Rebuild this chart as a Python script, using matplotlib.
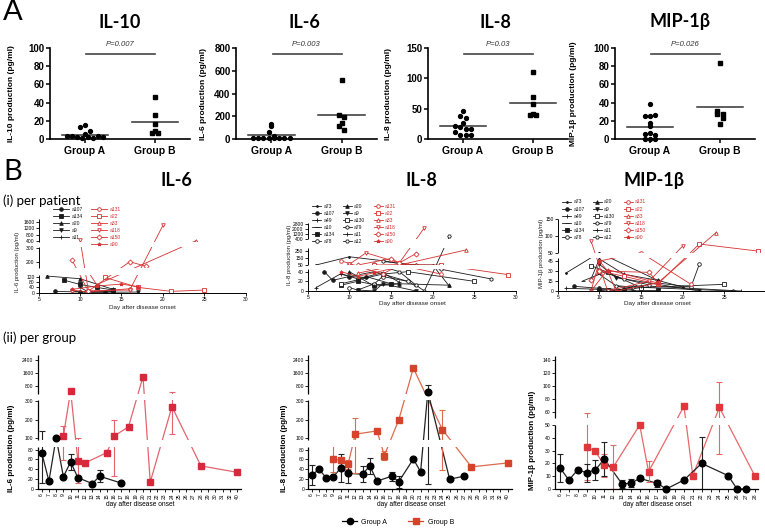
import numpy as np
import matplotlib
matplotlib.use("Agg")
import matplotlib.pyplot as plt
from matplotlib.lines import Line2D

W, H = 765, 529
plt.rcParams["font.family"] = ["Liberation Sans", "DejaVu Sans"]
TITLE_FONT = ["Lato", "DejaVu Sans"]

# ---------------- data: panel A (single values per patient) ----------------
groups = ["Group A", "Group B"]
a_titles = ["IL-10", "IL-6", "IL-8", "MIP-1β"]
a_ylabels = ["IL-10 production (pg/ml)", "IL-6 production (pg/ml)",
             "IL-8 production (pg/ml)", "MIP-1β production (pg/ml)"]
a_pvalues = ["P=0.007", "P=0.003", "P=0.03", "P=0.026"]
a_yticks = [[0, 20, 40, 60, 80, 100], [0, 200, 400, 600, 800],
            [0, 50, 100, 150], [0, 20, 40, 60, 80, 100]]
il10_a = [13, 15, 9, 5, 3, 3, 2, 1, 2, 1, 3, 2]
il10_b = [46, 26, 17, 9, 7, 7]
il6_a = [130, 110, 65, 25, 10, 8, 12, 6, 9, 5, 7, 10]
il6_b = [515, 215, 195, 140, 115, 75]
il8_a = [46, 38, 35, 26, 21, 19, 17, 16, 12, 7, 7, 7]
il8_b = [111, 70, 57, 42, 40, 40]
mip_a = [39, 25, 25, 26, 18, 14, 6, 7, 4, 0, 0, 0]
mip_b = [84, 31, 28, 27, 23, 16]

# ---------------- data: panel B (i) per patient ----------------
red_names = ["a131", "a22", "a33", "a118", "a150", "a90"]

p6_names = ["a107", "a134", "a20", "a9", "a11"]
p6_days = [[7, 10, 13, 14], [8, 10, 12, 14], [6, 10, 14], [9, 11, 17], [10, 11, 14]]
p6_vals = [[10, 5, 5, 10], [95, 62, 40, 20], [125, 105, 25], [12, 3, 5], [40, 5, 15]]
p6_red_days = [[9, 11, 16], [13, 17, 21, 25], [11, 12, 24], [10, 11, 16, 20],
               [9, 11, 16, 18], [9, 12, 15, 17]]
p6_red_vals = [[20, 5, 30], [115, 40, 10, 20], [140, 60, 400], [450, 15, 20, 1400],
               [215, 12, 200, 165], [25, 50, 65, 45]]

p8_names = ["a73", "a107", "a49", "a10", "a134", "a78",
            "a20", "a9", "a130", "a79", "a11", "a12"]
p8_days = [[6, 10, 14, 17, 20, 22], [7, 8, 10, 12], [6, 9, 11, 14, 16],
           [9, 10, 13, 17, 18], [9, 11, 13, 15], [10, 11, 13, 14, 17],
           [10, 13, 16, 22], [11, 13, 14, 18], [9, 14, 17, 25],
           [14, 18, 21, 27], [12, 15, 16], [13, 16, 18, 19, 22]]
p8_vals = [[50, 165, 110, 50, 50, 10], [40, 22, 30, 28], [7, 36, 25, 38, 18],
           [35, 30, 40, 20, 10], [12, 20, 13, 15], [7, 2, 15, 30, 20],
           [40, 10, 15, 12], [2, 0, 15, 0], [15, 35, 40, 20],
           [100, 50, 45, 25], [30, 15, 15], [60, 40, 12, 0, 800]]
p8_red_days = [[9, 10, 14, 16, 21], [13, 16, 21, 29], [11, 16, 24],
               [10, 12, 16, 19], [11, 15, 16, 18], [9, 11, 13, 17]]
p8_red_vals = [[110, 70, 35, 50, 35], [50, 55, 50, 34], [37, 50, 260],
               [60, 220, 80, 2200], [50, 140, 80, 210], [40, 30, 38, 50]]

pm_names = p8_names
pm_days = [[6, 10, 17, 20], [7, 10, 13, 15], [6, 9, 12, 14], [8, 10, 12, 14],
           [10, 11, 13, 17], [17, 21, 22], [9, 10, 13, 17], [10, 12, 22],
           [9, 11, 15, 25], [12, 14, 26], [13, 15, 27], [10, 13, 16]]
pm_vals = [[27, 50, 16, 6], [7, 4, 2, 5], [4, 3, 1, 6], [15, 25, 8, 2],
           [0, 2, 0, 1], [12, 6, 40], [18, 48, 25, 16], [40, 20, 0],
           [38, 28, 5, 10], [8, 6, 0], [4, 8, 0], [30, 18, 9]]
pm_red_days = [[9, 10, 15, 21], [10, 13, 17, 22, 29], [9, 11, 17, 24],
               [9, 11, 16, 20], [9, 10, 16, 17], [10, 11, 12, 17]]
pm_red_vals = [[0, 45, 50, 10], [30, 22, 10, 76, 55], [0, 32, 12, 110],
               [85, 0, 15, 70], [16, 30, 28, 12], [45, 30, 0, 12]]

# ---------------- data: panel B (ii) per group ----------------
cats_il = list(range(6, 33)) + [40]
cats_mip = list(range(6, 29))

g6_a_days = [6, 7, 8, 9, 10, 11, 13, 14, 17]
g6_a_vals = [74, 16, 102, 25, 55, 23, 11, 26, 12]
g6_a_err = [62, 0, 0, 0, 17, 0, 0, 12, 0]
g6_b_days = [9, 10, 11, 12, 15, 16, 18, 20, 21, 24, 28, 40]
g6_b_vals = [111, 500, 57, 53, 74, 111, 161, 1380, 14, 271, 47, 34]
g6_b_err = [53, 0, 45, 0, 0, 85, 0, 0, 0, 150, 0, 0]

g8_a_days = [6, 7, 8, 9, 10, 11, 13, 14, 15, 17, 18, 20, 21, 22, 25, 27]
g8_a_vals = [28, 40, 23, 25, 43, 32, 30, 47, 16, 26, 15, 61, 35, 450, 20, 26]
g8_a_err = [20, 0, 0, 0, 28, 20, 16, 16, 0, 9, 12, 0, 0, 440, 0, 0]
g8_b_days = [9, 10, 11, 12, 15, 16, 18, 20, 24, 28, 40]
g8_b_vals = [61, 58, 50, 121, 139, 68, 200, 1900, 146, 45, 53]
g8_b_err = [27, 0, 9, 88, 0, 10, 0, 0, 107, 0, 0]

gm_a_days = [6, 7, 8, 9, 10, 11, 13, 14, 15, 17, 18, 20, 22, 25, 26, 27]
gm_a_vals = [16.5, 7, 15, 12.7, 15, 23.4, 4, 4.5, 8.3, 4.4, 0, 7, 20, 10.4, 0, 0]
gm_a_err = [11, 0, 0, 7, 8, 13, 3, 3, 0, 3, 0, 0, 20.5, 0, 0, 0]
gm_b_days = [9, 10, 11, 12, 15, 16, 20, 21, 24, 28]
gm_b_vals = [33, 29.4, 18.4, 17, 50, 13.5, 69, 10.4, 67, 10.4]
gm_b_err = [26, 0, 9, 17, 0, 8, 0, 0, 40, 0]

# marker style per patient: (marker, filled)
MARKERS = {
    "a73": (".", True), "a107": ("o", True), "a49": ("+", True), "a10": ("_", True),
    "a134": ("s", True), "a78": ("o", False), "a20": ("^", True), "a9": ("v", True),
    "a130": ("s", False), "a79": ("h", False), "a11": ("+", True), "a12": ("H", False),
    "a131": ("o", False), "a22": ("s", False), "a33": ("^", False),
    "a118": ("v", False), "a150": ("D", False), "a90": ("*", True),
}
BLACK = "#1a1a1a"
RED = "#d63030"


def px_axes(fig, left, top, right, bottom):
    return fig.add_axes([left / W, 1 - bottom / H, (right - left) / W, (bottom - top) / H])


def ftext(fig, x, y, s, **kw):
    return fig.text(x / W, 1 - y / H, s, **kw)


def lin_interp(x, xp, fp):
    x = np.asarray(x, float)
    y = np.interp(x, xp, fp)
    lo = (fp[1] - fp[0]) / (xp[1] - xp[0])
    hi = (fp[-1] - fp[-2]) / (xp[-1] - xp[-2])
    y = np.where(x < xp[0], fp[0] + (x - xp[0]) * lo, y)
    y = np.where(x > xp[-1], fp[-1] + (x - xp[-1]) * hi, y)
    return y


def swarm(vals, ymax, width):
    # spread points of similar height sideways, like a GraphPad scatter
    vals = np.asarray(vals, float)
    bins = np.round(vals / (ymax * 0.06)).astype(int)
    offs = np.zeros(len(vals))
    for b in np.unique(bins):
        idx = np.where(bins == b)[0]
        offs[idx] = (np.arange(len(idx)) - (len(idx) - 1) / 2) * width
    return offs


def broken_axis(fig, left, right, bottom, segs, yticks, lw=0.8, tsize=3.6):
    # segs: (value_lo, value_hi, height_lo_px, height_hi_px)
    top = bottom - segs[-1][3]
    ax = px_axes(fig, left, top, right, bottom)
    kv = np.array([v for s in segs for v in s[:2]], float)
    kh = np.array([h for s in segs for h in s[2:]], float)
    ax.set_yscale("function", functions=(lambda v: lin_interp(v, kv, kh),
                                         lambda h: lin_interp(h, kh, kv)))
    ax.set_ylim(segs[0][0], segs[-1][1])
    for sp in ["left", "top", "right"]:
        ax.spines[sp].set_visible(False)
    ax.spines["bottom"].set_linewidth(lw)
    for s in segs:
        ax.plot([0, 0], [s[0], s[1]], transform=ax.get_yaxis_transform(),
                color="black", lw=lw, clip_on=False, solid_capstyle="butt", zorder=5)
    for s0, s1 in zip(segs[:-1], segs[1:]):
        ax.axhspan(s0[1], s1[0], color="white", lw=0, zorder=2.6)
    ax.set_yticks(yticks, labels=[str(t) for t in yticks])
    ax.minorticks_off()
    ax.tick_params(length=2, width=0.6, labelsize=tsize, pad=1)
    return ax


fig = plt.figure(figsize=(W / 100, H / 100), dpi=100)

# ---------------- panel A ----------------
a_data = [(il10_a, il10_b), (il6_a, il6_b), (il8_a, il8_b), (mip_a, mip_b)]
a_boxes = [(50, 190), (236, 377), (428, 568), (615, 755)]
a_title_x = [120, 304, 495, 680]
a_label_x = [-0.25, -0.205, -0.257, -0.27]
for i, ((va, vb), (l, r)) in enumerate(zip(a_data, a_boxes)):
    ax = px_axes(fig, l, 48, r, 139)
    ymax = a_yticks[i][-1]
    for pos, vals, mk in [(1, va, "o"), (2, vb, "s")]:
        offs = swarm(vals, ymax, 0.075)
        ax.plot(pos + offs, vals, ls="none", marker=mk, ms=2.8, color="black",
                clip_on=False, zorder=3)
        ax.plot([pos - 0.33, pos + 0.33], [np.mean(vals)] * 2, color="#333333", lw=1.1)
    ax.plot([1.02, 2.0], [0.93, 0.93], transform=ax.get_xaxis_transform(),
            color="#444444", lw=1.2, clip_on=False)
    ax.text(1.5, 1.0, a_pvalues[i], transform=ax.get_xaxis_transform(),
            ha="center", va="bottom", fontsize=5.5, style="italic", color="#333333")
    ax.set_xlim(0.5, 2.5)
    ax.set_ylim(0, ymax)
    ax.set_yticks(a_yticks[i])
    ax.set_xticks([1, 2], labels=groups)
    for sp in ["top", "right"]:
        ax.spines[sp].set_visible(False)
    for sp in ["left", "bottom"]:
        ax.spines[sp].set_linewidth(1.2)
    ax.tick_params(length=3, width=1.1, labelsize=7, pad=1)
    ax.tick_params(axis="x", labelsize=7.5, pad=2)
    for lbl in ax.get_xticklabels() + ax.get_yticklabels():
        lbl.set_fontweight("bold")
    ax.set_ylabel(a_ylabels[i], fontsize=6, fontweight="bold")
    ax.yaxis.set_label_coords(a_label_x[i], 0.5)
    ftext(fig, a_title_x[i], 22, a_titles[i], ha="center", va="center",
          fontsize=13, fontweight="bold", family=TITLE_FONT)

ftext(fig, 3, 12, "A", ha="left", va="center", fontsize=21, family=TITLE_FONT)
ftext(fig, 3, 172, "B", ha="left", va="center", fontsize=21, family=TITLE_FONT)
ftext(fig, 3, 201, "(i) per patient", ha="left", va="center", fontsize=9.5, family=TITLE_FONT)
ftext(fig, 3, 338, "(ii) per group", ha="left", va="center", fontsize=9.5, family=TITLE_FONT)
for x, t in [(176, "IL-6"), (421, "IL-8"), (654, "MIP-1β")]:
    ftext(fig, x, 181, t, ha="center", va="center", fontsize=13,
          fontweight="bold", family=TITLE_FONT)


# ---------------- panel B (i) ----------------
def draw_patients(ax, names, days, vals, color):
    hs = []
    for n, d, v in zip(names, days, vals):
        m, filled = MARKERS[n]
        h, = ax.plot(d, v, color=color, lw=0.6, marker=m, ms=2.6, mew=0.6,
                     mfc=color if filled else "white", label=n, zorder=2)
        hs.append(h)
    return hs


pat_panels = [
    dict(box=(38.7, 245.7, 292.7), xmax=30, xt=[5, 10, 15, 20, 25, 30],
         segs=[(0, 130, 0, 17.3), (150, 310, 24.3, 45.7), (350, 1800, 51.2, 73.4)],
         yt=[0, 40, 80, 120, 200, 300, 400, 800, 1200, 1600],
         black=(p6_names, p6_days, p6_vals), red=(p6_red_days, p6_red_vals),
         ylabel="IL-6 production (pg/ml)", ylab=(17, 262), xlab=(142, 307),
         leg=(53, 206.5), ncol=2, hl=3.2, blank=True),
    dict(box=(307.7, 516, 291), xmax=30, xt=[5, 10, 15, 20, 25, 30],
         segs=[(0, 45, 0, 21.75), (46, 290, 25.7, 43.2), (320, 3000, 51.5, 68.25)],
         yt=[0, 20, 40, 50, 150, 250, 400, 1200, 2000, 2800],
         black=(p8_names, p8_days, p8_vals), red=(p8_red_days, p8_red_vals),
         ylabel="IL-8 production (pg/ml)", ylab=(289, 255), xlab=(412, 304),
         leg=(312, 203.5), ncol=3, hl=1.8, blank=False),
    dict(box=(557.7, 764, 291), xmax=29.77, xt=[5, 10, 15, 20, 25],
         segs=[(0, 49.5, 0, 33), (50, 152, 38.3, 72.3)],
         yt=[0, 15, 30, 45, 50, 100, 150],
         black=(pm_names, pm_days, pm_vals), red=(pm_red_days, pm_red_vals),
         ylabel="MIP-1β production (pg/ml)", ylab=(541, 253), xlab=(657, 304),
         leg=(562, 199.5), ncol=3, hl=1.8, blank=False),
]
for p in pat_panels:
    l, r, b = p["box"]
    ax = broken_axis(fig, l, r, b, p["segs"], p["yt"], lw=0.7, tsize=3.6)
    hb = draw_patients(ax, *p["black"], BLACK)
    hr = draw_patients(ax, red_names, *p["red"], RED)
    ax.set_xlim(5, p["xmax"])
    ax.set_xticks(p["xt"])
    handles = hb + ([Line2D([], [], ls="none")] if p["blank"] else []) + hr
    labels = [h.get_label() for h in hb] + ([""] if p["blank"] else []) + red_names
    leg = ax.legend(handles, labels, ncol=p["ncol"], loc="upper left",
                    bbox_to_anchor=(p["leg"][0] / W, 1 - p["leg"][1] / H),
                    bbox_transform=fig.transFigure, frameon=False, fontsize=3.6,
                    handlelength=p["hl"], labelspacing=0.42, columnspacing=1.6,
                    borderpad=0, handletextpad=0.5, borderaxespad=0)
    for t, c in zip(leg.get_texts(), [BLACK] * (len(hb) + p["blank"]) + [RED] * 6):
        t.set_color(c)
    ftext(fig, p["ylab"][0], p["ylab"][1], p["ylabel"], rotation=90, ha="center",
          va="center", fontsize=4.3, color="#222222")
    ftext(fig, p["xlab"][0], p["xlab"][1], "Day after disease onset", ha="center",
          va="center", fontsize=4.6, color="#222222")


# ---------------- panel B (ii) ----------------
def draw_group(ax, cats, days, vals, errs, color, line_color, marker, ms):
    x = [cats.index(d) for d in days]
    ax.plot(x, vals, color=line_color, lw=0.9, zorder=2)
    sel = [k for k, e in enumerate(errs) if e > 0]
    ax.errorbar([x[k] for k in sel], [vals[k] for k in sel],
                yerr=[errs[k] for k in sel], fmt="none", ecolor=line_color,
                elinewidth=0.8, capsize=2, capthick=0.8, zorder=2.2)
    ax.plot(x, vals, ls="none", marker=marker, color=color, ms=ms, zorder=4,
            clip_on=False)


segs_il = [(0, 85, 0, 41.8), (90, 305, 49.1, 88.6), (330, 2700, 95.4, 133.9)]
yt_il = [0, 20, 40, 60, 80, 100, 200, 300, 800, 1600, 2400]
segs_mip = [(0, 50, 0, 64), (51, 147, 71.2, 133.3)]
yt_mip = [0, 10, 20, 30, 40, 50, 60, 80, 100, 120, 140]

grp_panels = [
    dict(box=(37.7, 240.7, 489), xl=(-0.55, 27.5), cats=cats_il, segs=segs_il, yt=yt_il,
         a=(g6_a_days, g6_a_vals, g6_a_err), b=(g6_b_days, g6_b_vals, g6_b_err),
         red=("#d7283c", "#e2646e"), ylabel="IL-6 production (pg/ml)",
         ylab=(11.5, 448), xlab=(140, 504)),
    dict(box=(308.3, 511.7, 489), xl=(-0.47, 27.55), cats=cats_il, segs=segs_il, yt=yt_il,
         a=(g8_a_days, g8_a_vals, g8_a_err), b=(g8_b_days, g8_b_vals, g8_b_err),
         red=("#d4442a", "#de6a4e"), ylabel="IL-8 production (pg/ml)",
         ylab=(284, 448), xlab=(411, 504)),
    dict(box=(555, 758.3, 489), xl=(-0.57, 22.4), cats=cats_mip, segs=segs_mip, yt=yt_mip,
         a=(gm_a_days, gm_a_vals, gm_a_err), b=(gm_b_days, gm_b_vals, gm_b_err),
         red=("#e0383a", "#e8686a"), ylabel="MIP-1β production (pg/ml)",
         ylab=(532, 440), xlab=(657, 504)),
]
for p in grp_panels:
    l, r, b = p["box"]
    ax = broken_axis(fig, l, r, b, p["segs"], p["yt"], lw=0.9, tsize=3.6)
    draw_group(ax, p["cats"], *p["b"], p["red"][0], p["red"][1], "s", 4.6)
    draw_group(ax, p["cats"], *p["a"], "black", "#222222", "o", 4.8)
    ax.set_xlim(*p["xl"])
    ax.set_xticks(range(len(p["cats"])), labels=[str(c) for c in p["cats"]],
                  rotation=90)
    ftext(fig, p["ylab"][0], p["ylab"][1], p["ylabel"], rotation=90, ha="center",
          va="center", fontsize=5.8, fontweight="bold")
    ftext(fig, p["xlab"][0], p["xlab"][1], "day after disease onset", ha="center",
          va="center", fontsize=4.8)

leg_handles = [Line2D([], [], color="black", marker="o", ms=4.5, lw=0.9),
               Line2D([], [], color="#d4442a", marker="s", ms=4.5, lw=0.9)]
fig.legend(leg_handles, groups, loc="center", bbox_to_anchor=(398 / W, 1 - 522 / H),
           ncol=2, frameon=False, fontsize=5, handlelength=2.2, columnspacing=3,
           handletextpad=0.6)

fig.savefig("out.png", dpi=100)
